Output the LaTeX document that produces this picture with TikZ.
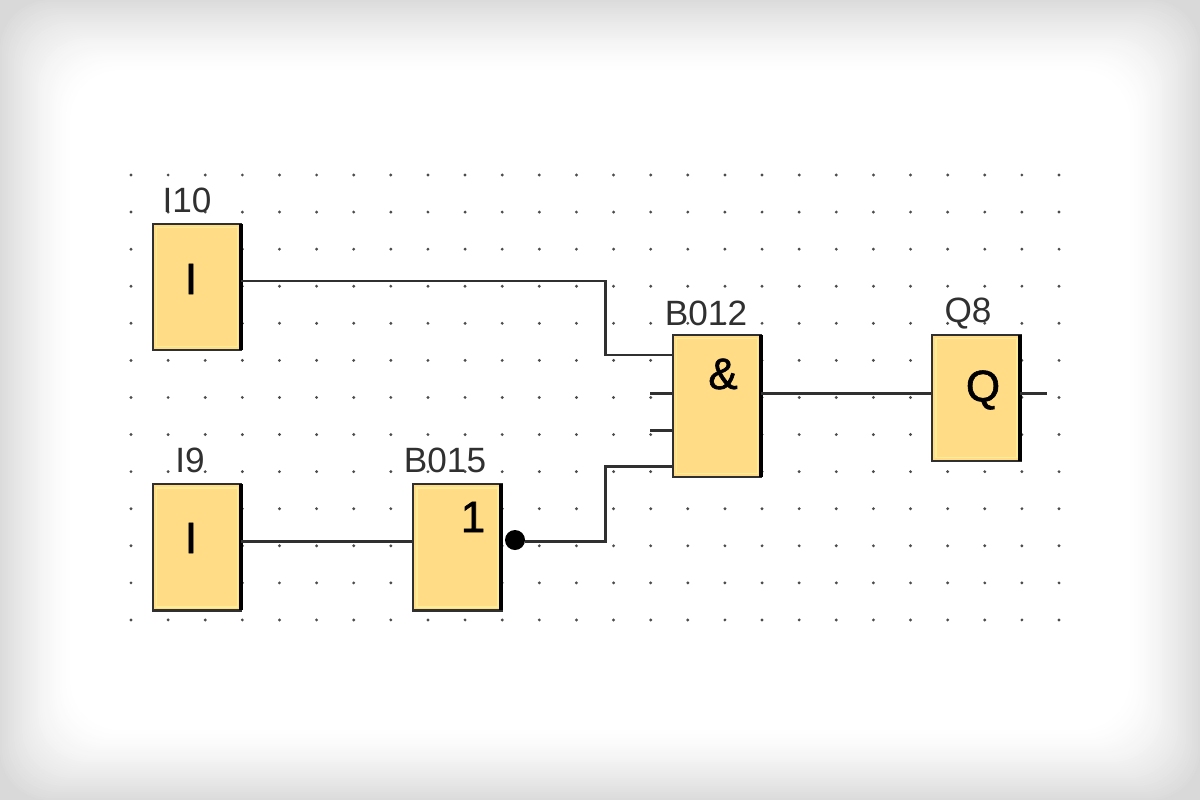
\documentclass[tikz,border=0pt]{standalone}
\usepackage{fontspec}
\setmainfont{Liberation Sans}
\newfontfamily\symfont[FakeBold=1.4]{Liberation Sans}
\usetikzlibrary{positioning}
\definecolor{blockfill}{RGB}{255,220,133}
\definecolor{blocklight}{RGB}{255,236,150}
\definecolor{inkgray}{RGB}{48,48,48}
\tikzset{
    block/.style={draw=inkgray,line width=.75pt,fill=blockfill,minimum width=.88cm,minimum height=1.26cm,inner sep=0pt,outer sep=0pt},
    tag/.style={font=\fontsize{10}{12}\selectfont,text=inkgray,inner sep=0pt},
    sym/.style={font=\symfont\fontsize{12.5}{15}\selectfont,text=black,inner sep=0pt},
    wire/.style={draw=inkgray,line width=.85pt},
    griddot/.style={fill=black!70},
    hilite/.style={draw=blocklight,line width=.5pt},
    rim/.style={draw=black,line width=1.05pt},
}
\begin{document}
\begin{tikzpicture}[x=.01cm,y=-.01cm]
    \useasboundingbox (0,0) rectangle (1200,800);
    % grey fade towards the edges
    \fill[black!15] (0,0) rectangle (1200,800);
    \foreach \k in {0,...,36} {
        \pgfmathsetmacro{\gv}{14*(1-\k/36)^1.4}
        \fill[black!\gv,rounded corners=14pt] ({2*\k},{2*\k}) rectangle ({1200-2*\k},{800-2*\k});
    }
    % dot grid
    \foreach \i in {0,...,25} {
        \foreach \j in {0,...,12} {
            \fill[griddot] ({131+37.12*\i},{175+37.08*\j}) circle (1.6);
        }
    }

    \node (i10) [block] at (197,287) {};
    \node (i9) [block,below=1.34cm of i10] {};
    \node (b15) [block,right=1.72cm of i9] {};
    \node (and) [block,minimum height=1.42cm] at (717,406) {};
    \node (q8) [block,right=1.71cm of and.north east,anchor=north west] {};

    \foreach \n in {i10,i9,b15,and,q8} {
        \draw[hilite] ([shift={(1pt,-1pt)}]\n.north west) rectangle ([shift={(-1pt,1pt)}]\n.south east);
        \draw[rim] (\n.north east) -- (\n.south east);
    }

    \node (i10tag) [tag] at (187,200) {I10};
    \node (i9tag) [tag] at (190,460) {I9};
    \node (b15tag) [tag] at (445,460) {B015};
    \node (andtag) [tag] at (706,313) {B012};
    \node (q8tag) [tag] at (968,314) {Q8};

    \node (i10sym) [sym] at (191,279) {I};
    \node (i9sym) [sym] at (191,538) {I};
    \node (b15sym) [sym] at (473,517) {1};
    \node (andsym) [sym] at (723,374) {\&};
    \node (q8sym) [sym] at (983,390) {Q};

    \node (inv) [circle,fill=black,minimum size=.2cm,inner sep=0pt,outer sep=0pt] at (515,540) {};

    \coordinate (bendtop) at (605,281);
    \coordinate (bendlow) at (605,541);
    \coordinate (pina) at (650,355);
    \coordinate (pinb) at (650,393);
    \coordinate (pinc) at (650,430);
    \coordinate (pind) at (650,466);
    \coordinate (qout) at (1047,393);

    \draw[wire] (i10.east |- bendtop) -- (bendtop) |- (and.west |- pina);
    \draw[wire] (i9.east |- bendlow) -- (b15.west |- bendlow);
    \draw[wire] (inv.east |- bendlow) -- (bendlow) |- (and.west |- pind);
    \draw[wire] (pinb) -- (and.west |- pinb);
    \draw[wire] (pinc) -- (and.west |- pinc);
    \draw[wire] (and.east |- qout) -- (q8.west |- qout);
    \draw[wire] (q8.east |- qout) -- (qout);
\end{tikzpicture}
\end{document}
